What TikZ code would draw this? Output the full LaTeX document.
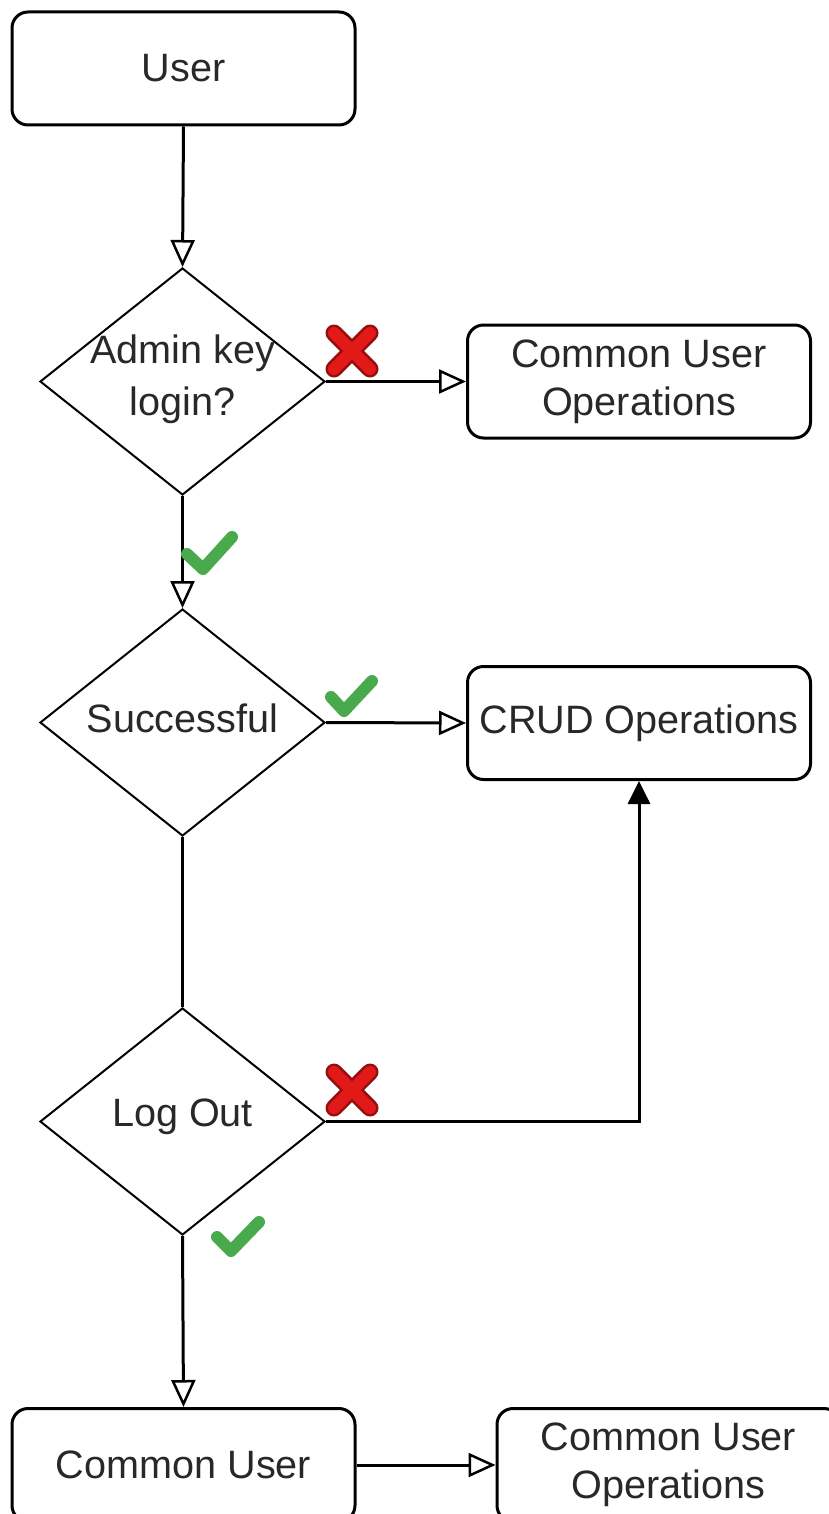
\documentclass[tikz,border=0pt]{standalone}
\usepackage{fontspec}
\setmainfont{Liberation Sans}
\usetikzlibrary{shapes.geometric,arrows.meta}
\definecolor{okgreen}{RGB}{72,170,76}
\definecolor{xred}{RGB}{225,25,25}
\definecolor{xdark}{RGB}{150,15,15}
\definecolor{txt}{RGB}{40,40,40}
\tikzset{
  box/.style={draw, line width=3pt, rounded corners=16pt, minimum width=343pt, minimum height=113pt, inner sep=0pt, align=center, text=txt, font=\fontsize{39.6}{48}\selectfont},
  decision/.style={draw, diamond, line width=2pt, minimum width=285pt, minimum height=227pt, inner sep=0pt},
  dtext/.style={align=center, text=txt, inner sep=0pt, font=\fontsize{39.6}{52}\selectfont},
  conn/.style={line width=3pt},
  openarrow/.style={conn, -{Triangle[open, length=27pt, width=24pt, line width=2.5pt]}},
  fillarrow/.style={conn, -{Triangle[length=23pt, width=22pt]}},
  tick/.style={okgreen, line width=12pt, line cap=round, line join=round},
}
\begin{document}
\begin{tikzpicture}[x=1pt, y=-1pt]
\useasboundingbox (0,0) rectangle (828,1514);
\node[box] (user) at (183.5,68.5) {User};
\node[decision] (d1) at (182.5,381.5) {};
\node[dtext] (d1t) at (182.5,379) {Admin key\\login?};
\node[box] (cuo1) at (639,381.5) {Common User\\Operations};
\node[decision] (d2) at (182.5,722.5) {};
\node[dtext] (d2t) at (182.5,718) {Successful};
\node[box] (crud) at (639,723) {CRUD Operations};
\node[decision] (d3) at (182.5,1121.5) {};
\node[dtext] (d3t) at (182.5,1117) {Log Out};
\node[box] (cu) at (183.5,1465) {Common User};
\node[box] (cuo2) at (668.5,1465) {Common User\\Operations};

\draw[openarrow] (user.south) -- (d1.north);
\draw[openarrow] (d1.east) -- (cuo1.west);
\draw[openarrow] (d1.south) -- (d2.north);
\draw[openarrow] (d2.east) -- (crud.west);
\draw[conn] (d2.south) -- (d3.north);
\draw[fillarrow] (d3.east) -| (crud.south);
\draw[openarrow] (d3.south) -- (cu.north);
\draw[openarrow] (cu.east) -- (cuo2.west);

% ticks
\draw[tick] (187,554) -- (203,569) -- (232,537);
\draw[tick] (331,697) -- (344,711) -- (372,681);
\draw[tick] (217,1237) -- (231,1251) -- (259,1222);
% crosses
\foreach \cx/\cy in {352/351, 352/1090}{
  \draw[xdark, line width=17pt, line cap=round] (\cx-18,\cy-18) -- (\cx+18,\cy+18) (\cx+18,\cy-18) -- (\cx-18,\cy+18);
  \draw[xred, line width=12pt, line cap=round] (\cx-18,\cy-18) -- (\cx+18,\cy+18) (\cx+18,\cy-18) -- (\cx-18,\cy+18);
}
\end{tikzpicture}
\end{document}
